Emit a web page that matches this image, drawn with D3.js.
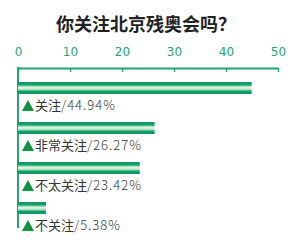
<!DOCTYPE html>
<html>
<head>
<meta charset="utf-8">
<script src="https://cdn.jsdelivr.net/npm/d3@7"></script>
<style>
  body { margin: 0; background: #fff; }
  svg { display: block; }
</style>
</head>
<body>
<div id="chart"></div>
<script>
// Data
const categories = ["关注", "非常关注", "不太关注", "不关注"];
const values = [44.94, 26.27, 23.42, 5.38];
const tickValues = [0, 10, 20, 30, 40, 50];

const W = 300, H = 249;
const green = "#22a66e";

const svg = d3.select("#chart")
  .append("svg")
  .attr("width", W)
  .attr("height", H);

// Gradient for the striped bars
const grad = svg.append("defs").append("linearGradient")
  .attr("id", "barGrad")
  .attr("x1", 0).attr("y1", 0).attr("x2", 0).attr("y2", 1);
grad.append("stop").attr("offset", "0%").attr("stop-color", "#0c9a5e");
grad.append("stop").attr("offset", "22%").attr("stop-color", "#12a064");
grad.append("stop").attr("offset", "45%").attr("stop-color", "#e4f4ea");
grad.append("stop").attr("offset", "60%").attr("stop-color", "#c6e9d4");
grad.append("stop").attr("offset", "78%").attr("stop-color", "#12a064");
grad.append("stop").attr("offset", "100%").attr("stop-color", "#0c9a5e");

// Title
svg.append("text")
  .attr("x", 146)
  .attr("y", 31)
  .attr("text-anchor", "middle")
  .attr("font-family", "'Noto Sans CJK SC', sans-serif")
  .attr("font-weight", "bold")
  .attr("font-size", 18)
  .attr("fill", "#222")
  .text("你关注北京残奥会吗？");

// Scales
const x = d3.scaleLinear().domain([0, 50]).range([18, 278]);
const y = d3.scaleBand().domain(categories).range([68, 228]).paddingInner(0.7).paddingOuter(0.35);

// Axis on top, ticks pointing down
const axis = svg.append("g")
  .attr("transform", "translate(0,68)")
  .call(d3.axisBottom(x).tickValues(tickValues).tickSize(4).tickSizeOuter(0));
axis.select(".domain").attr("stroke", green).attr("stroke-width", 2);
axis.selectAll(".tick line").attr("stroke", green).attr("stroke-width", 1.5);
axis.selectAll(".tick text")
  .attr("y", -16)
  .attr("dy", "0.32em")
  .attr("fill", green)
  .attr("font-family", "'DejaVu Sans', sans-serif")
  .attr("font-size", 12);

// Left vertical line
svg.append("line")
  .attr("x1", x(0)).attr("x2", x(0))
  .attr("y1", 67).attr("y2", 228)
  .attr("stroke", green)
  .attr("stroke-width", 2);

// Bars
svg.selectAll(".bar")
  .data(categories)
  .enter()
  .append("rect")
  .attr("class", "bar")
  .attr("x", x(0))
  .attr("y", d => y(d))
  .attr("width", (d, i) => x(values[i]) - x(0))
  .attr("height", y.bandwidth())
  .attr("fill", "url(#barGrad)");

// Labels
const labels = svg.selectAll(".label")
  .data(categories)
  .enter()
  .append("g")
  .attr("class", "label")
  .attr("transform", d => `translate(22,${y(d) + y.bandwidth() + 16})`);

labels.append("path")
  .attr("d", "M0,0 L6,-11 L12,0 Z")
  .attr("transform", "translate(0,1)")
  .attr("fill", "#12933f");

const lt = labels.append("text")
  .attr("x", 13)
  .attr("y", 0)
  .attr("font-family", "'Noto Sans CJK SC', sans-serif")
  .attr("font-size", 13)
  .attr("fill", "#333");
lt.append("tspan").text(d => d);
lt.append("tspan")
  .attr("letter-spacing", 1)
  .attr("font-weight", 300)
  .text((d, i) => `/${values[i].toFixed(2)}%`);
</script>
</body>
</html>
